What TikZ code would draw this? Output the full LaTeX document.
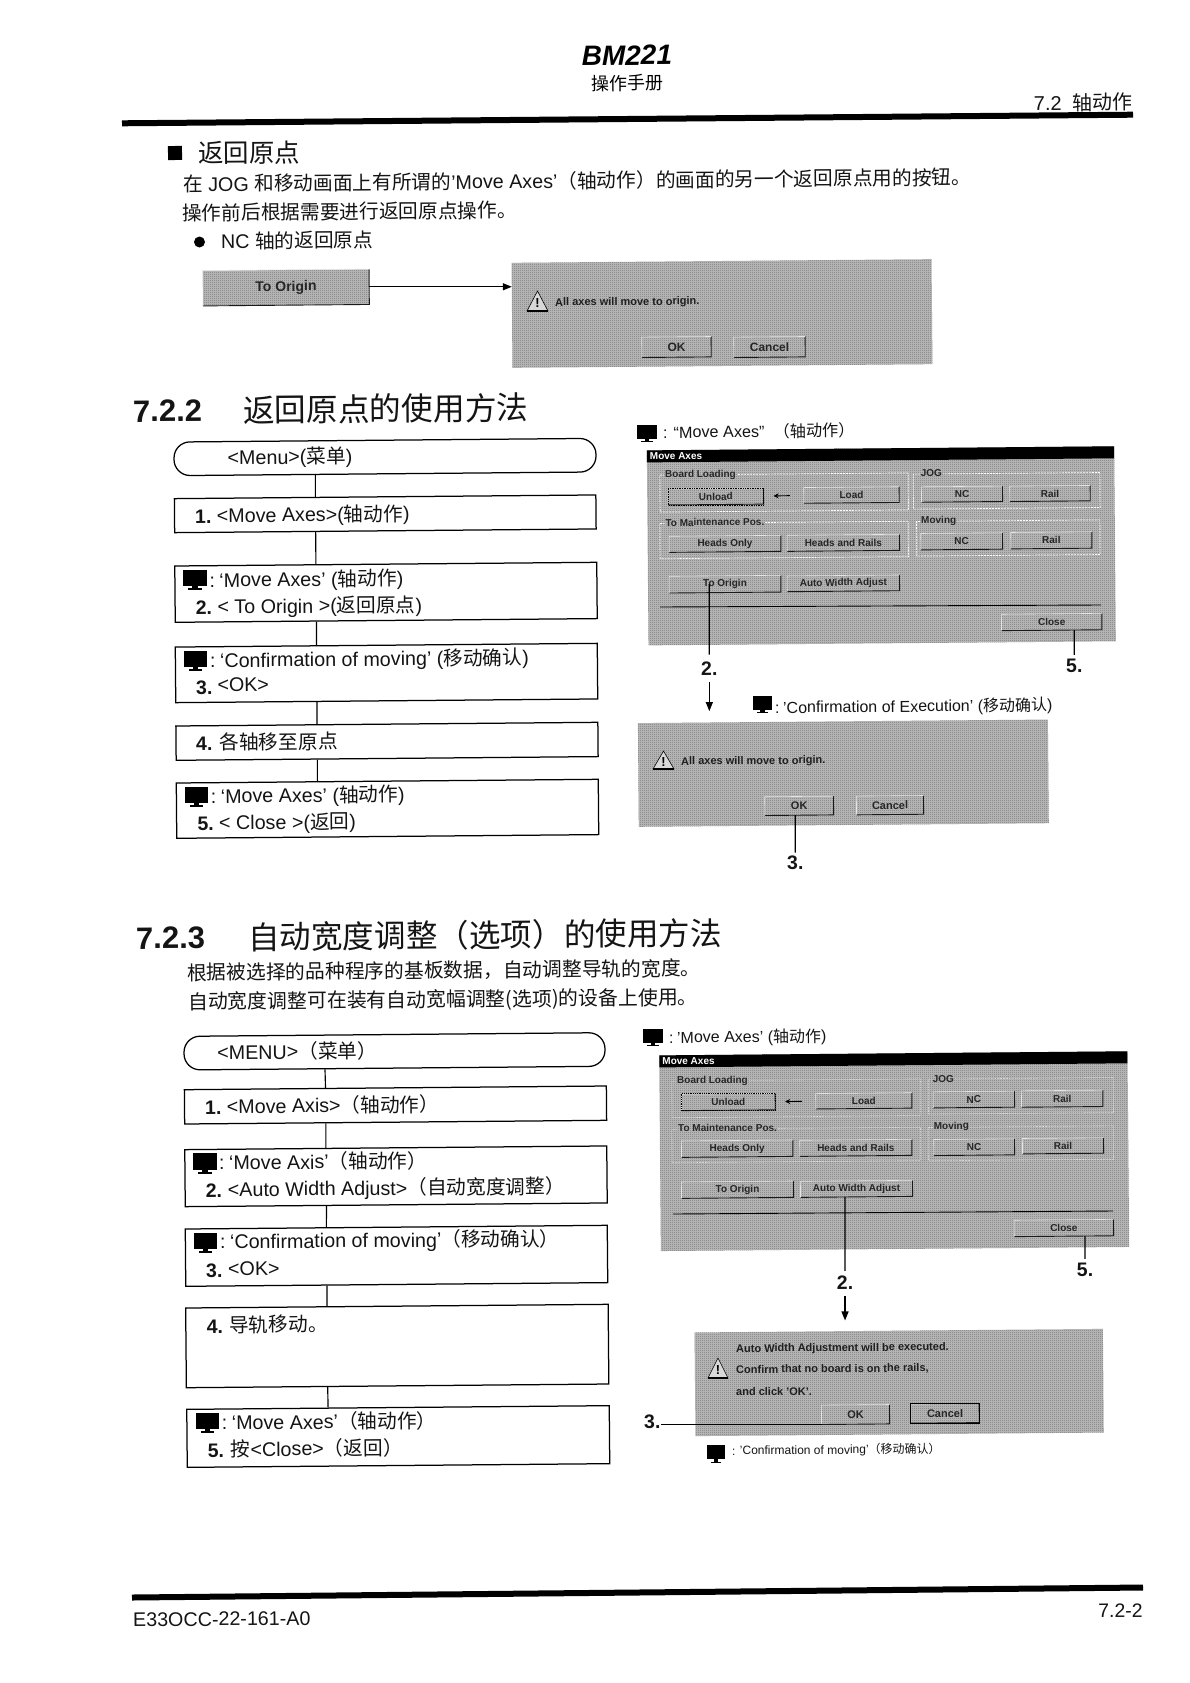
\documentclass[tikz,border=0pt]{standalone}
\usepackage{fontspec}
\setmainfont{Liberation Sans}
\newfontfamily\cj{Noto Sans CJK SC}
\usetikzlibrary{calc,arrows.meta,patterns}
\definecolor{scr}{gray}{0.74}
\definecolor{scrdark}{gray}{0.46}
\pgfdeclarepatternformonly{halftone}{\pgfqpoint{0pt}{0pt}}{\pgfqpoint{2pt}{2pt}}{\pgfqpoint{2pt}{2pt}}{
  \pgfpathrectangle{\pgfqpoint{0pt}{0pt}}{\pgfqpoint{1pt}{1pt}}
  \pgfpathrectangle{\pgfqpoint{1pt}{1pt}}{\pgfqpoint{1pt}{1pt}}
  \pgfusepath{fill}}
\newcommand\pxs[1]{\fontsize{#1}{#1}\selectfont}
\def\ox{0}\def\oy{0}\def\zs{1}
\tikzset{
  every node/.append style={rotate=0.5},
  txt/.style={anchor=base west,inner sep=0pt,text=black!92},
  body/.style={txt,yshift=-1.5pt,font=\pxs{19.7}},
  small/.style={txt,yshift=-1.2pt,font=\pxs{16.2}},
  num/.style={txt,yshift=-0.5pt,font=\pxs{19.5}\bfseries},
  flowbox/.style={draw=black,line width=1.25pt,fill=white,inner sep=0pt},
  conn/.style={draw=black,line width=1.15pt},
  halft/.style={fill=scr,postaction={pattern=halftone,pattern color=scrdark}},
  screenbg/.style={halft,inner sep=0pt},
  btnbg/.style={halft,inner sep=0pt,text=black!85,font=\pxs{10}\bfseries},
  grplabel/.style={anchor=west,halft,inner sep=1pt,text=black!85,font=\pxs{10}\bfseries},
  scrtxt/.style={anchor=base west,inner sep=0pt,text=black!88,font=\pxs{11}\bfseries},
  grpframe/.style={draw=white,line width=0.7pt,dash pattern=on 2pt off 1pt,inner sep=0pt},
  grpframeb/.style={draw=white,draw opacity=0.55,line width=0.6pt,dash pattern=on 2pt off 1pt,inner sep=0pt},
  rule/.style={draw=black,line width=6pt},
  arrowline/.style={draw=black,line width=1.15pt,-{Triangle[length=9pt,width=7pt]}},
}
% rectangle-by-corners helpers, in zoom units (origin \ox,\oy, scale \zs)
\newcommand\boxat[6]{\node[#6,minimum width={(#4-#2)/\zs*1pt},minimum height={(#5-#3)/\zs*1pt}] (#1) at ({\ox+(#2+#4)/(2*\zs)},{\oy+(#3+#5)/(2*\zs)}) {};}
\newcommand\btn[7][]{\node[btnbg,#1,minimum width={(#4-#2)/\zs*1pt},minimum height={(#5-#3)/\zs*1pt}] (#7) at ({\ox+(#2+#4)/(2*\zs)},{\oy+(#3+#5)/(2*\zs)}) {#6};
  \draw[black!90,line width=0.9pt] (#7.south west) -- (#7.south east) -- (#7.north east);
  \draw[white!90!black,line width=0.6pt] (#7.south west) -- (#7.north west) -- (#7.north east);}
\newcommand\glabel[4]{\node[grplabel] (#1) at ({\ox+#2/\zs},{\oy+#3/\zs}) {#4};}
\newcommand\flowb[6][]{\node[flowbox,#1,minimum width={(#4-#3)*1pt},minimum height=#6pt] (#2) at ({(#3+#4)/2},#5) {};}
\newcommand\flowconn[2]{\draw[conn] ($(#1.south west)!0.335!(#1.south east)$) -- ($(#2.north west)!0.335!(#2.north east)$);}
\newcommand\mon[4]{\fill[black] (#1,#2) rectangle (#3,{#2+0.8*(#4-#2)});
  \fill[black] ({#1+0.38*(#3-#1)},{#2+0.8*(#4-#2)}) rectangle ({#1+0.62*(#3-#1)},{#2+0.92*(#4-#2)});
  \fill[black] ({#1+0.2*(#3-#1)},{#2+0.92*(#4-#2)}) rectangle ({#1+0.8*(#3-#1)},#4);}
\newcommand\warn[5]{\draw[fill=white!72!scrdark,line width=0.6pt,line join=round] ({(#2+#4)/2},#3) -- (#4,#5) -- (#2,#5) -- cycle;
  \draw[black,line width=1.1pt] (#2,#5) -- (#4,#5);
  \node[inner sep=0pt,font=\pxs{13}\bfseries] (#1) at ({(#2+#4)/2},{#3+0.6*(#5-#3)}) {!};}
\begin{document}
\begin{tikzpicture}[x=1pt,y=-1pt]
\useasboundingbox (0,0) rectangle (1190,1683);
% --- page header
\node[inner sep=0pt,anchor=base,font=\pxs{28}\bfseries\itshape] (title) at (627,65) {BM221};
\node[inner sep=0pt,anchor=base,font=\pxs{18}\cj] (sub) at (627,90) {操作手册};
\node[txt,anchor=base east,font=\pxs{20}] (sect) at (1133,109.5) {7.2\ \ {\cj 轴动作}};
\coordinate (ruleTL) at (122,123.3);
\coordinate (ruleTR) at (1133,114.7);
\draw[rule] (ruleTL) -- (ruleTR);
% --- intro
\node[fill=black,inner sep=0pt,minimum size=14pt] (sq) at (175,153) {};
\node[txt,font=\pxs{25.5}\cj] (h0) at (198,163) {返回原点};
\node[body] (p1) at (183,190) {{\cj 在} JOG {\cj 和移动画面上有所谓的}'Move Axes'{\cj （轴动作）的画面的另一个返回原点用的按钮。}};
\node[body,font=\pxs{19.7}\cj] (p2) at (182,219) {操作前后根据需要进行返回原点操作。};
\node[fill=black,circle,inner sep=0pt,minimum size=11pt] (dot) at (199.5,242) {};
\node[body] (p3) at (221,247) {NC {\cj 轴的返回原点}};
% --- To Origin button + top dialog
\def\ox{0}\def\oy{0}\def\zs{1}
\btn[font=\pxs{14}\bfseries]{203}{270}{369}{305}{To Origin}{topbtn}
\boxat{topdlg}{512}{261}{932}{366}{screenbg}
\draw[arrowline] (topbtn.east) -- (topbtn.east -| topdlg.west);
\warn{topwarn}{527}{291}{548}{311}
\node[scrtxt] (toptx) at (555,306) {All axes will move to origin.};
\btn[font=\pxs{12}\bfseries]{642}{337}{711}{357}{OK}{topok}
\btn[font=\pxs{12}\bfseries]{734}{337}{805}{357}{Cancel}{topcancel}
% --- 7.2.2
\node[txt,font=\pxs{31}\bfseries] (h1a) at (133,422) {7.2.2};
\node[txt,font=\pxs{31.7}\cj] (h1b) at (243,422) {返回原点的使用方法};
% flow 1
\flowb[rounded corners=16pt]{fa0}{174}{596}{457}{33.6}
\flowb{fa1}{174.5}{596}{513.8}{34}
\flowb{fa2}{175}{597}{592.3}{56.3}
\flowb{fa3}{175.5}{597.5}{673}{55.6}
\flowb{fa4}{176}{598}{741.3}{34.3}
\flowb{fa5}{176.5}{598.5}{808.8}{55.3}
\flowconn{fa0}{fa1}\flowconn{fa1}{fa2}\flowconn{fa2}{fa3}\flowconn{fa3}{fa4}\flowconn{fa4}{fa5}
\node[body] (a0t) at (227.5,463) {<Menu>({\cj 菜单})};
\node[num] (a1n) at (195,523.3) {1.};
\node[body] (a1t) at (216.7,521) {<Move Axes>({\cj 轴动作})};
\mon{183}{570}{207}{590}
\node[body] (a2u) at (209.3,585.7) {:\kern4.5pt ‘Move Axes’ ({\cj 轴动作})};
\node[num] (a2n) at (195.7,614) {2.};
\node[body] (a2t) at (217.3,612.3) {< To Origin >({\cj 返回原点})};
\mon{184}{651}{207}{671}
\node[body] (a3u) at (210,666) {:\kern4.5pt ‘Confirmation of moving’ ({\cj 移动确认})};
\node[num] (a3n) at (196,694) {3.};
\node[body] (a3t) at (217.3,690) {<OK>};
\node[num] (a4n) at (196,750) {4.};
\node[body,font=\pxs{19.7}\cj] (a4t) at (219.3,748.3) {各轴移至原点};
\mon{185}{787}{208}{807}
\node[body] (a5u) at (210.7,801.7) {:\kern4.5pt ‘Move Axes’ ({\cj 轴动作})};
\node[num] (a5n) at (197.3,830) {5.};
\node[body] (a5t) at (219,828.3) {< Close >({\cj 返回})};
% --- panel 1
\def\ox{630}\def\oy{410}\def\zs{3}
\mon{637}{425}{657}{442}
\node[small] (ph1) at (663,437) {: “Move Axes” \ {\cj （轴动作）}};
\boxat{pa}{53}{115}{1455}{700}{screenbg}
\node[fill=black,inner sep=0pt,anchor=north,minimum width=467.3pt,minimum height=12pt] (pabar) at (pa.north) {};
\node[inner sep=0pt,anchor=west,text=white,font=\pxs{10}\bfseries] (pabart) at ([xshift=3pt]pabar.west) {Move Axes};
\boxat{pag1}{90}{192}{835}{303}{grpframe}
\boxat{pag2}{850}{190}{1410}{295}{grpframe}
\boxat{pag3}{90}{337}{835}{443}{grpframe}
\boxat{pag4}{860}{332}{1410}{436}{grpframe}
\glabel{pal1}{102}{196}{Board Loading}
\glabel{pal2}{869}{190}{JOG}
\glabel{pal3}{103}{338}{To Maintenance Pos.}
\glabel{pal4}{870}{333}{Moving}
\btn{115}{236}{400}{283}{Unload}{paUnload}
\draw[black,line width=0.7pt,densely dotted] (paUnload.south west) rectangle (paUnload.north east);
\btn{522}{232}{807}{278}{Load}{paLoad}
\draw[-{Stealth[length=5pt,width=5pt]},line width=0.9pt,shorten <=14pt,shorten >=10pt] (paLoad.west) -- (paUnload.east);
\btn{875}{230}{1117}{275}{NC}{paNC1}
\btn{1140}{228}{1380}{273}{Rail}{paRail1}
\btn{118}{378}{452}{425}{Heads Only}{paHead}
\btn{472}{375}{808}{422}{Heads and Rails}{paBoth}
\btn{873}{370}{1117}{418}{NC}{paNC2}
\btn{1143}{367}{1385}{415}{Rail}{paRail2}
\btn{118}{498}{452}{547}{To Origin}{paOrigin}
\btn{472}{497}{808}{543}{Auto Width Adjust}{paAuto}
\coordinate (paLineL) at (660,607);
\coordinate (paLineR) at (1101,605);
\draw[black,line width=0.9pt] (paLineL) -- (paLineR);
\btn{1115}{612}{1415}{660}{Close}{paClose}
\node[num] (pl2) at (701,675) {2.};
\node[num] (pl5) at (1066,672) {5.};
\draw[conn,shorten >=7pt] (paOrigin.center -| pl2.center) -- (pl2.north);
\draw[conn,shorten >=4pt] (paClose.south -| pl5.center) -- (pl5.north);
\mon{753}{696}{772}{713}
\node[small,font=\pxs{16}] (pc1) at (775,712) {:\kern3.5pt 'Confirmation of Execution' ({\cj 移动确认})};
\boxat{da}{25}{934}{1255}{1245}{screenbg}
\draw[arrowline,shorten <=6pt,shorten >=10pt] (pl2.south) -- (pl2.south |- da.north);
\warn{dawarn}{653}{751}{674}{769}
\node[scrtxt] (datx) at (681,765) {All axes will move to origin.};
\btn[font=\pxs{11}\bfseries]{405}{1160}{610}{1215}{OK}{daOK}
\btn[font=\pxs{11}\bfseries]{680}{1158}{880}{1213}{Cancel}{daCancel}
\node[num] (pl3) at (787,869) {3.};
\draw[conn,shorten >=3pt] (daOK.south -| pl3.center) -- (pl3.north);
% --- 7.2.3
\node[txt,font=\pxs{31}\bfseries] (h2a) at (136,949) {7.2.3};
\node[txt,font=\pxs{31.6}\cj] (h2b) at (248,949) {自动宽度调整（选项）的使用方法};
\node[body,font=\pxs{19.75}\cj] (q1) at (187,978.5) {根据被选择的品种程序的基板数据，自动调整导轨的宽度。};
\node[body,font=\pxs{19.85}] (q2) at (188,1007.5) {\cj 自动宽度调整可在装有自动宽幅调整(选项)的设备上使用。};
% flow 2
\flowb[rounded corners=16pt]{fb0}{184}{605}{1051.3}{33.6}
\flowb{fb1}{184.5}{606.5}{1105}{34.3}
\flowb{fb2}{185}{607}{1176.3}{57}
\flowb{fb3}{185.5}{607.5}{1255.8}{57.3}
\flowb{fb4}{186}{608.5}{1346}{79.7}
\flowb{fb5}{187}{609.5}{1436.5}{58}
\flowconn{fb0}{fb1}\flowconn{fb1}{fb2}\flowconn{fb2}{fb3}\flowconn{fb3}{fb4}\flowconn{fb4}{fb5}
\node[body] (b0t) at (217.2,1058) {<MENU>{\cj （菜单）}};
\node[num] (b1n) at (205,1114) {1.};
\node[body] (b1t) at (226.7,1112) {<Move Axis>{\cj （轴动作）}};
\mon{193}{1153}{217}{1174}
\node[body] (b2u) at (219,1168.3) {:\kern4.5pt ‘Move Axis’{\cj （轴动作）}};
\node[num] (b2n) at (205.7,1196.7) {2.};
\node[body] (b2t) at (227.7,1195) {<Auto Width Adjust>{\cj （自动宽度调整）}};
\mon{194}{1233}{217}{1253}
\node[body] (b3u) at (220,1247.3) {:\kern4.5pt ‘Confirmation of moving’{\cj （移动确认）}};
\node[num] (b3n) at (206,1276.7) {3.};
\node[body] (b3t) at (228,1274) {<OK>};
\node[num] (b4n) at (206.7,1332.7) {4.};
\node[body,font=\pxs{19.7}\cj] (b4t) at (229,1330.7) {导轨移动。};
\mon{196}{1413}{219}{1433}
\node[body] (b5u) at (221.7,1428.3) {:\kern4.5pt ‘Move Axes’{\cj （轴动作）}};
\node[num] (b5n) at (207.7,1457.3) {5.};
\node[body] (b5t) at (230.7,1455) {{\cj 按}<Close>{\cj （返回）}};
% --- panel 2
\def\ox{630}\def\oy{1020}\def\zs{3}
\mon{643}{1029}{663}{1046}
\node[small,font=\pxs{16}] (ph2) at (669,1042) {:\kern3.5pt 'Move Axes' ({\cj 轴动作})};
\boxat{pb}{90}{100}{1495}{687}{screenbg}
\node[fill=black,inner sep=0pt,anchor=north,minimum width=468pt,minimum height=12pt] (pbbar) at (pb.north) {};
\node[inner sep=0pt,anchor=west,text=white,font=\pxs{10}\bfseries] (pbbart) at ([xshift=3pt]pbbar.west) {Move Axes};
\boxat{pbg1}{126}{180}{872}{290}{grpframeb}
\boxat{pbg2}{895}{175}{1450}{280}{grpframeb}
\boxat{pbg3}{126}{325}{872}{425}{grpframeb}
\boxat{pbg4}{895}{320}{1450}{420}{grpframeb}
\glabel{pbl1}{138}{184}{Board Loading}
\glabel{pbl2}{905}{178}{JOG}
\glabel{pbl3}{141}{325}{To Maintenance Pos.}
\glabel{pbl4}{908}{320}{Moving}
\btn{155}{222}{435}{270}{Unload}{pbUnload}
\draw[black,line width=0.8pt,densely dotted] (pbUnload.south west) rectangle (pbUnload.north east);
\btn{558}{220}{845}{265}{Load}{pbLoad}
\draw[-{Stealth[length=5pt,width=5pt]},line width=0.9pt,shorten <=14pt,shorten >=10pt] (pbLoad.west) -- (pbUnload.east);
\btn{910}{215}{1153}{262}{NC}{pbNC1}
\btn{1175}{212}{1418}{260}{Rail}{pbRail1}
\btn{155}{362}{488}{410}{Heads Only}{pbHead}
\btn{510}{360}{845}{407}{Heads and Rails}{pbBoth}
\btn{912}{358}{1153}{405}{NC}{pbNC2}
\btn{1178}{355}{1420}{400}{Rail}{pbRail2}
\btn{155}{485}{490}{533}{To Origin}{pbOrigin}
\btn{512}{483}{847}{530}{Auto Width Adjust}{pbAuto}
\coordinate (pbLineL) at (673,1214);
\coordinate (pbLineR) at (1113,1211);
\draw[black,line width=0.9pt] (pbLineL) -- (pbLineR);
\btn{1153}{600}{1450}{648}{Close}{pbClose}
\node[num] (ql2) at (836.7,1289.3) {2.};
\node[num] (ql5) at (1076.7,1276) {5.};
\draw[conn,shorten >=5pt] (pbAuto.south -| ql2.center) -- (ql2.north);
\draw[conn,shorten >=4pt] (pbClose.south -| ql5.center) -- (ql5.north);
\boxat{db}{195}{932}{1420}{1243}{screenbg}
\draw[arrowline,shorten <=6pt,shorten >=10pt] (ql2.south) -- (ql2.south |- db.north);
\warn{dbwarn}{708}{1358}{728}{1378}
\node[scrtxt] (dbt1) at (736,1352.3) {Auto Width Adjustment will be executed.};
\node[scrtxt] (dbt2) at (736,1373.3) {Confirm that no board is on the rails,};
\node[scrtxt] (dbt3) at (736,1395.7) {and click 'OK'.};
\btn[font=\pxs{11}\bfseries]{575}{1155}{778}{1212}{OK}{dbOK}
\btn[font=\pxs{11}\bfseries]{843}{1152}{1047}{1208}{Cancel}{dbCancel}
\draw[black,line width=1pt] (dbCancel.south west) rectangle (dbCancel.north east);
\node[num] (ql3) at (644,1428) {3.};
\draw[conn] (ql3.east |- dbOK.south west) -- (dbOK.south west);
\mon{707}{1445}{725}{1463}
\node[txt,font=\pxs{12}] (pc2) at (732,1455) {: 'Confirmation of moving'{\cj （移动确认）}};
% --- footer
\coordinate (ruleBL) at (132,1597.5);
\coordinate (ruleBR) at (1143,1587.5);
\draw[rule] (ruleBL) -- (ruleBR);
\node[txt,font=\pxs{19.7}] (code) at (133,1626.7) {E33OCC-22-161-A0};
\node[txt,anchor=base east,font=\pxs{19.5}] (page) at (1143,1617) {7.2-2};
\end{tikzpicture}
\end{document}
